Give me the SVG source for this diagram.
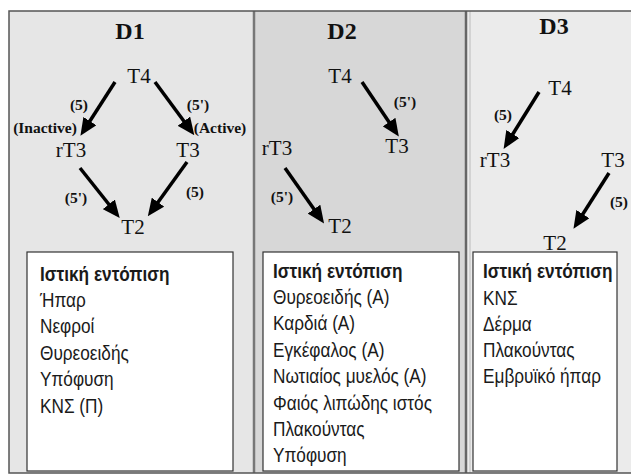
<svg xmlns="http://www.w3.org/2000/svg" width="631" height="474" viewBox="0 0 631 474">
<style>
.node{font-family:"Liberation Serif","Times New Roman",serif;font-size:21px;fill:#111;text-anchor:middle}
.title{font-family:"Liberation Serif","Times New Roman",serif;font-size:24px;font-weight:bold;fill:#111;text-anchor:middle}
.lbl{font-family:"Liberation Serif","Times New Roman",serif;font-size:15.5px;font-weight:bold;fill:#111;text-anchor:middle}
.box{fill:#fff;stroke:#333;stroke-width:1.2}
.list{font-family:"Liberation Sans",Arial,sans-serif;font-size:21px;fill:#1a1a1a}
.list .h{font-weight:bold}
.arr{stroke:#000;stroke-width:3.5;fill:none;marker-end:url(#ah)}
</style>
<defs>
<marker id="ah" markerWidth="5" markerHeight="4.4" refX="1" refY="2.2" orient="auto" markerUnits="strokeWidth">
<path d="M0,0 L5,2.2 L0,4.4 Z" fill="#000"/>
</marker>
</defs>
<rect x="9" y="11" width="640" height="462" fill="#e6e6e6"/>
<rect x="255" y="11" width="211" height="462" fill="#d7d7d7"/>
<rect x="467" y="11" width="180" height="462" fill="#ebebeb"/>
<line x1="254" y1="11" x2="254" y2="473" stroke="#777" stroke-width="2.5"/>
<line x1="466" y1="11" x2="466" y2="473" stroke="#666" stroke-width="2.5"/>
<line x1="470" y1="11" x2="470" y2="473" stroke="#bbb" stroke-width="1"/>
<rect x="9" y="11" width="640" height="462" fill="none" stroke="#555" stroke-width="1.5"/>

<g id="connectors">
<line class="arr" x1="115" y1="82" x2="88" y2="124"/>
<line class="arr" x1="155" y1="82" x2="186" y2="124"/>
<line class="arr" x1="80" y1="168" x2="111" y2="207"/>
<line class="arr" x1="187" y1="162" x2="156" y2="205"/>
<line class="arr" x1="362" y1="82" x2="391" y2="125"/>
<line class="arr" x1="285" y1="168" x2="316" y2="212"/>
<line class="arr" x1="539" y1="92" x2="511" y2="137"/>
<line class="arr" x1="609" y1="173" x2="581" y2="217"/>
</g>

<g id="D1">
<text class="title" x="130" y="39">D1</text>
<g id="D1-T4"><text class="node" x="139" y="83">T4</text></g>
<g id="D1-rT3"><text class="node" x="71" y="157">rT3</text></g>
<g id="D1-T3"><text class="node" x="188" y="157">T3</text></g>
<g id="D1-T2"><text class="node" x="133" y="234">T2</text></g>
<text class="lbl" x="79" y="110">(5)</text>
<text class="lbl" x="198" y="110">(5')</text>
<text class="lbl" x="45" y="133">(Inactive)</text>
<text class="lbl" x="220" y="133">(Active)</text>
<text class="lbl" x="76" y="203">(5')</text>
<text class="lbl" x="195" y="197">(5)</text>
</g>

<g id="D2">
<text class="title" x="342" y="39">D2</text>
<g id="D2-T4"><text class="node" x="340" y="83">T4</text></g>
<g id="D2-T3"><text class="node" x="397" y="153">T3</text></g>
<g id="D2-rT3"><text class="node" x="277" y="155">rT3</text></g>
<g id="D2-T2"><text class="node" x="340" y="233">T2</text></g>
<text class="lbl" x="405" y="107">(5')</text>
<text class="lbl" x="282" y="202">(5')</text>
</g>

<g id="D3">
<text class="title" x="554" y="34">D3</text>
<g id="D3-T4"><text class="node" x="560" y="95">T4</text></g>
<g id="D3-rT3"><text class="node" x="495" y="167">rT3</text></g>
<g id="D3-T3"><text class="node" x="613" y="167">T3</text></g>
<g id="D3-T2"><text class="node" x="555" y="250">T2</text></g>
<text class="lbl" x="503" y="120">(5)</text>
<text class="lbl" x="619" y="207">(5)</text>
</g>

<g id="box1">
<rect class="box" x="27" y="252" width="206" height="219"/>
<text class="list" transform="translate(40,0) scale(0.82,1)"><tspan class="h" x="0" y="281">Ιστική εντόπιση</tspan><tspan x="0" y="307">Ήπαρ</tspan><tspan x="0" y="333">Νεφροί</tspan><tspan x="0" y="360">Θυρεοειδής</tspan><tspan x="0" y="386">Υπόφυση</tspan><tspan x="0" y="413">ΚΝΣ (Π)</tspan></text>
</g>
<g id="box2">
<rect class="box" x="263" y="252" width="196" height="219"/>
<text class="list" transform="translate(273,0) scale(0.82,1)"><tspan class="h" x="0" y="278">Ιστική εντόπιση</tspan><tspan x="0" y="304">Θυρεοειδής (A)</tspan><tspan x="0" y="330">Καρδιά (A)</tspan><tspan x="0" y="357">Εγκέφαλος (A)</tspan><tspan x="0" y="383">Νωτιαίος μυελός (A)</tspan><tspan x="0" y="410">Φαιός λιπώδης ιστός</tspan><tspan x="0" y="436">Πλακούντας</tspan><tspan x="0" y="462">Υπόφυση</tspan></text>
</g>
<g id="box3">
<rect class="box" x="473" y="252" width="144" height="219"/>
<text class="list" transform="translate(483,0) scale(0.82,1)"><tspan class="h" x="0" y="278">Ιστική εντόπιση</tspan><tspan x="0" y="305">ΚΝΣ</tspan><tspan x="0" y="331">Δέρμα</tspan><tspan x="0" y="357">Πλακούντας</tspan><tspan x="0" y="383">Εμβρυϊκό ήπαρ</tspan></text>
</g>
</svg>
